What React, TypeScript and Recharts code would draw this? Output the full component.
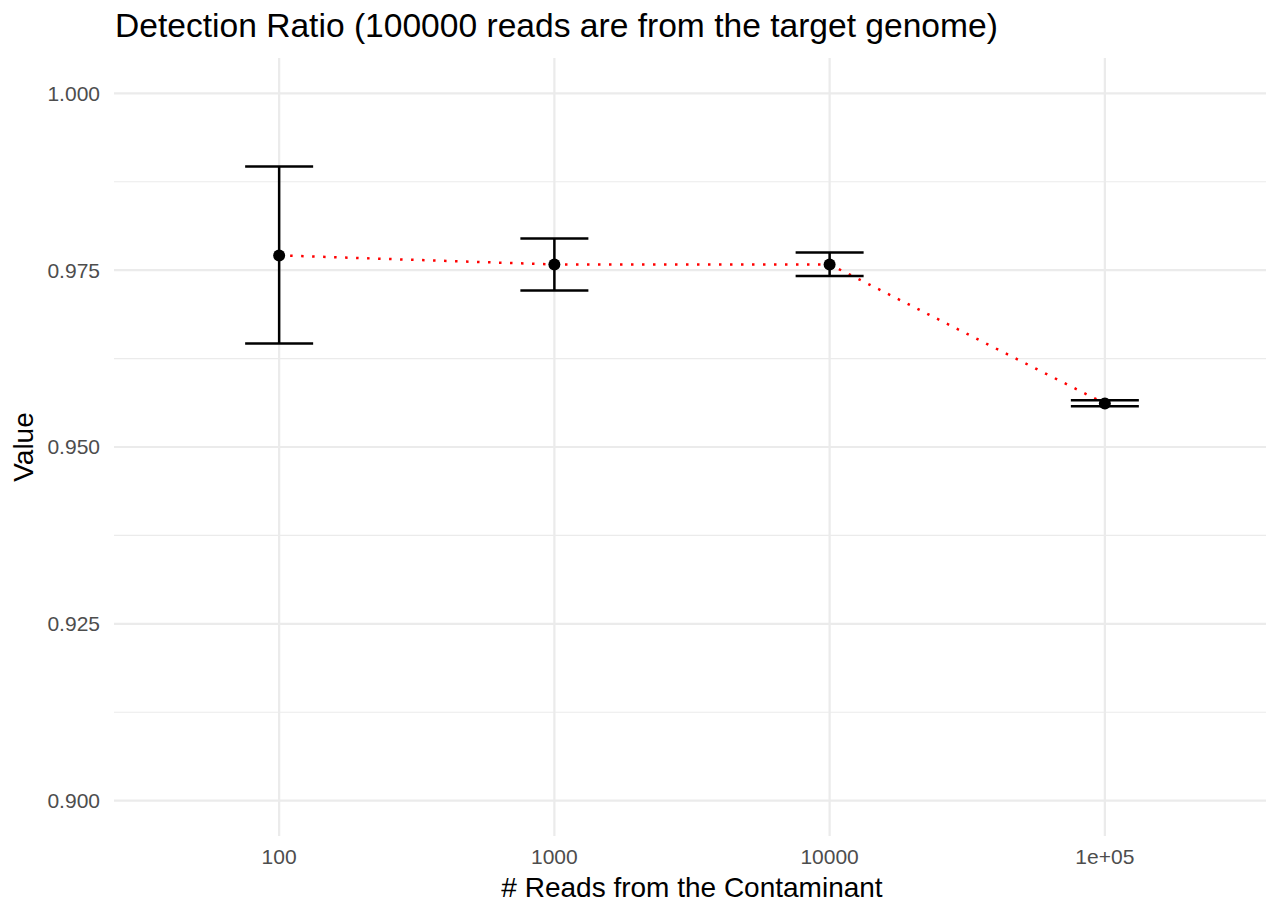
import React from "react";
import {
  CartesianGrid,
  ComposedChart,
  ErrorBar,
  Line,
  ReferenceLine,
  Scatter,
  XAxis,
  YAxis
} from "recharts";

const categories = ["100", "1000", "10000", "1e+05"];
const ratioMean = [0.97709, 0.97581, 0.97581, 0.95615];
const ratioUpper = [0.98967, 0.97949, 0.97751, 0.95662];
const ratioLower = [0.96464, 0.97214, 0.97416, 0.95577];

const xTicks = [0, 1, 2, 3];
const yTicks = [0.9, 0.925, 0.95, 0.975, 1.0];
const yMinor = [0.9125, 0.9375, 0.9625, 0.9875];

const FONT = '"Liberation Sans", Arial, Helvetica, sans-serif';
const GRID = "#EBEBEB";

const rows = categories.map((c, i) => ({
  x: i,
  label: c,
  value: ratioMean[i],
  err: [ratioMean[i] - ratioLower[i], ratioUpper[i] - ratioMean[i]]
}));

const Dot = (p: any) => <circle cx={p.cx} cy={p.cy} r={6} fill="#000" />;

export default function App() {
  return (
    <div
      style={{
        position: "absolute",
        left: 0,
        top: 0,
        width: 1266,
        height: 904,
        overflow: "hidden",
        background: "#fff",
        fontFamily: FONT
      }}
    >
      <div
        style={{
          position: "absolute",
          left: 115,
          top: 8.5,
          fontSize: 33.6,
          lineHeight: 1,
          color: "#000",
          whiteSpace: "nowrap"
        }}
      >
        Detection Ratio (100000 reads are from the target genome)
      </div>
      <ComposedChart
        width={1270}
        height={904}
        data={rows}
        margin={{ top: 58, right: 0, bottom: 0, left: 0 }}
        style={{ fontFamily: FONT }}
      >
        <CartesianGrid
          stroke={GRID}
          strokeWidth={2.2}
          horizontalValues={yTicks}
          verticalValues={xTicks}
        />
        {yMinor.map((v) => (
          <ReferenceLine key={v} y={v} stroke={GRID} strokeWidth={1.2} />
        ))}
        <XAxis
          dataKey="x"
          type="number"
          domain={[-0.6, 3.6]}
          ticks={xTicks}
          interval={0}
          tickFormatter={(i: number) => categories[i]}
          axisLine={false}
          tickLine={false}
          tickSize={0}
          tickMargin={13}
          height={68}
          tick={{ fill: "#4D4D4D", fontSize: 21 }}
          label={{
            content: (props: any) => {
              const vb = props.viewBox;
              return (
                <text
                  x={vb.x + vb.width / 2}
                  y={897}
                  textAnchor="middle"
                  fontSize={28}
                  fill="#000"
                >
                  # Reads from the Contaminant
                </text>
              );
            }
          }}
        />
        <YAxis
          type="number"
          domain={[0.895, 1.005]}
          ticks={yTicks}
          interval={0}
          tickFormatter={(v: number) => v.toFixed(3)}
          axisLine={false}
          tickLine={false}
          tickSize={0}
          tickMargin={14}
          width={114}
          tick={{ fill: "#4D4D4D", fontSize: 21 }}
          label={{
            content: (props: any) => {
              const vb = props.viewBox;
              const cy = vb.y + vb.height / 2;
              return (
                <text
                  x={33}
                  y={cy}
                  transform={`rotate(-90 33 ${cy})`}
                  textAnchor="middle"
                  fontSize={28}
                  fill="#000"
                >
                  Value
                </text>
              );
            }
          }}
        />
        <Line
          type="linear"
          dataKey="value"
          stroke="#FF0000"
          strokeWidth={2.5}
          strokeDasharray="2.5 8.5"
          dot={false}
          activeDot={false}
          isAnimationActive={false}
        />
        <Scatter dataKey="value" shape={Dot} isAnimationActive={false}>
          <ErrorBar
            dataKey="err"
            direction="y"
            width={34}
            stroke="#000"
            strokeWidth={2.5}
            isAnimationActive={false}
          />
        </Scatter>
      </ComposedChart>
    </div>
  );
}
